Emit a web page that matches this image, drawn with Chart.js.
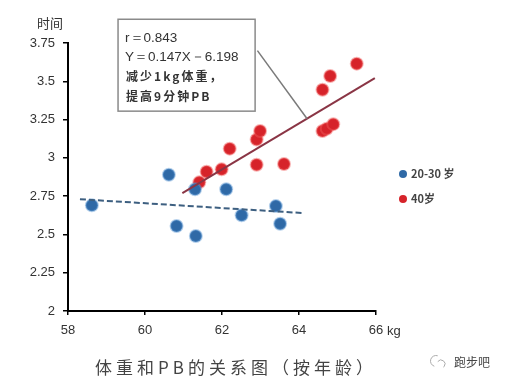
<!DOCTYPE html>
<html lang="zh">
<head>
  <meta charset="UTF-8" />
  <title>体重和PB的关系图</title>
  <script src="https://cdn.jsdelivr.net/npm/chart.js"></script>
  <style>
    html, body {
      margin: 0;
      padding: 0;
      background: #fff;
    }
    #wrap {
      width: 506px;
      height: 383px;
      position: relative;
    }
  </style>
</head>
<body>
  <div id="wrap">
    <canvas id="pbChart" width="506" height="383"></canvas>
  </div>

  <script>
    // 20-30岁
    const youngWeight = [58.62, 60.62, 60.82, 61.30, 61.32, 62.11, 62.51, 63.40, 63.51];
    const youngTime   = [2.69, 2.89, 2.555, 2.795, 2.49, 2.795, 2.625, 2.685, 2.57];
    // 40岁
    const oldWeight = [61.41, 61.60, 61.99, 62.20, 62.90, 62.90, 62.99, 63.61, 64.61, 64.72, 64.89, 64.61, 64.81, 65.50];
    const oldTime   = [2.84, 2.91, 2.925, 3.06, 2.955, 3.12, 3.175, 2.96, 3.175, 3.19, 3.22, 3.445, 3.535, 3.615];

    // 趋势线 (端点)
    const youngTrendX = [58.31, 64.07];
    const youngTrendY = [2.73, 2.64];
    const oldTrendX = [60.97, 65.97];
    const oldTrendY = [2.77, 3.52];

    const xTicks = [58, 60, 62, 64, 66];
    const yTicks = [2, 2.25, 2.5, 2.75, 3, 3.25, 3.5, 3.75];

    const noteLines = ['r＝0.843', 'Y＝0.147X－6.198', '减少1kg体重，', '提高9分钟PB'];
    const legendLabels = ['20-30 岁', '40岁'];
    const chartTitle = '体重和PB的关系图（按年龄）';

    // 注释框与指引线 (数据坐标)
    const noteBox = { x0: 59.3, y0: 3.905, x1: 62.86, y1: 3.305 };
    const pointerFrom = [62.92, 3.70];
    const pointerTo = [64.21, 3.255];

    const BLUE = '#2f69a6';
    const RED = '#d6232a';

    const toPoints = (xs, ys) => xs.map((x, i) => ({ x: x, y: ys[i] }));

    const extras = {
      id: 'extras',
      afterDraw(chart) {
        const { ctx, scales: { x, y }, chartArea } = chart;
        ctx.save();

        // y轴标题
        ctx.fillStyle = '#333';
        ctx.font = '13px "Noto Sans CJK SC"';
        ctx.textAlign = 'center';
        ctx.textBaseline = 'middle';
        ctx.fillText('时间', 50, 23);

        // kg
        ctx.font = '13px "Liberation Sans", Arial';
        ctx.textAlign = 'left';
        ctx.fillText('kg', 387, 331);

        // 指引线
        ctx.strokeStyle = '#7a7a7a';
        ctx.lineWidth = 1.5;
        ctx.beginPath();
        ctx.moveTo(x.getPixelForValue(pointerFrom[0]), y.getPixelForValue(pointerFrom[1]));
        ctx.lineTo(x.getPixelForValue(pointerTo[0]), y.getPixelForValue(pointerTo[1]));
        ctx.stroke();

        // 注释框
        const bx = x.getPixelForValue(noteBox.x0);
        const by = y.getPixelForValue(noteBox.y0);
        const bw = x.getPixelForValue(noteBox.x1) - bx;
        const bh = y.getPixelForValue(noteBox.y1) - by;
        ctx.fillStyle = '#fff';
        ctx.fillRect(bx, by, bw, bh);
        ctx.strokeStyle = '#8a8a8a';
        ctx.lineWidth = 1.5;
        ctx.strokeRect(bx, by, bw, bh);

        ctx.fillStyle = '#333';
        ctx.textAlign = 'left';
        ctx.font = '13.5px "Liberation Sans", Arial';
        ctx.fillText(noteLines[0], bx + 7, by + 19);
        ctx.fillText(noteLines[1], bx + 7, by + 38);
        ctx.font = 'bold 12px "Noto Sans CJK SC"';
        ctx.letterSpacing = '2px';
        ctx.fillText(noteLines[2], bx + 8, by + 57);
        ctx.fillText(noteLines[3], bx + 8, by + 77);
        ctx.letterSpacing = '0px';

        // 图例
        const lx = chartArea.right + 27;
        [[BLUE, 174], [RED, 199]].forEach(([c, ly], i) => {
          ctx.fillStyle = c;
          ctx.beginPath();
          ctx.arc(lx, ly, 4, 0, Math.PI * 2);
          ctx.fill();
          ctx.fillStyle = '#444';
          ctx.font = 'bold 11px "Noto Sans CJK SC"';
          ctx.fillText(legendLabels[i], lx + 8, ly);
        });

        // 标题
        ctx.fillStyle = '#444';
        ctx.font = '17px "Noto Sans CJK SC"';
        ctx.letterSpacing = '4px';
        ctx.textAlign = 'left';
        ctx.fillText(chartTitle, 95, 368);
        ctx.letterSpacing = '0px';

        // 水印
        ctx.strokeStyle = '#aaa';
        ctx.lineWidth = 1;
        ctx.beginPath();
        ctx.arc(436, 361, 5.5, Math.PI * 0.6, Math.PI * 1.6);
        ctx.stroke();
        ctx.beginPath();
        ctx.arc(441, 364, 4, Math.PI * 1.2, Math.PI * 2.3);
        ctx.stroke();
        ctx.fillStyle = '#444';
        ctx.font = '12px "Noto Sans CJK SC"';
        ctx.fillText('跑步吧', 454, 362);

        ctx.restore();
      }
    };

    new Chart(document.getElementById('pbChart'), {
      type: 'scatter',
      data: {
        datasets: [
          {
            label: legendLabels[0],
            data: toPoints(youngWeight, youngTime),
            backgroundColor: BLUE,
            borderColor: 'rgba(90,150,210,0.45)',
            borderWidth: 2,
            pointRadius: 6,
            order: 2
          },
          {
            label: legendLabels[1],
            data: toPoints(oldWeight, oldTime),
            backgroundColor: RED,
            borderColor: 'rgba(240,90,90,0.45)',
            borderWidth: 2,
            pointRadius: 6,
            order: 2
          },
          {
            type: 'line',
            data: toPoints(youngTrendX, youngTrendY),
            borderColor: '#3d5f80',
            borderWidth: 2,
            borderDash: [6, 3],
            pointRadius: 0,
            order: 1
          },
          {
            type: 'line',
            data: toPoints(oldTrendX, oldTrendY),
            borderColor: '#8a3545',
            borderWidth: 2,
            pointRadius: 0,
            order: 1
          }
        ]
      },
      options: {
        responsive: false,
        animation: false,
        layout: { padding: { top: 43, right: 130, left: 0, bottom: 0 } },
        scales: {
          x: {
            type: 'linear',
            min: 58,
            max: 66,
            afterBuildTicks: s => { s.ticks = xTicks.map(v => ({ value: v })); },
            afterFit: s => { s.height = 72; },
            grid: { drawOnChartArea: false, drawTicks: true, tickLength: 4, color: '#000', lineWidth: 1.5 },
            border: { color: '#000', width: 2 },
            ticks: { color: '#333', font: { size: 13, family: '"Liberation Sans", Arial' }, padding: 8 }
          },
          y: {
            min: 2,
            max: 3.75,
            afterBuildTicks: s => { s.ticks = yTicks.map(v => ({ value: v })); },
            afterFit: s => { s.width = 68; },
            grid: { drawOnChartArea: false, drawTicks: true, tickLength: 5, color: '#000', lineWidth: 1.5 },
            border: { color: '#000', width: 2 },
            ticks: { color: '#333', font: { size: 13, family: '"Liberation Sans", Arial' }, padding: 8, callback: v => String(v) }
          }
        },
        plugins: {
          legend: { display: false },
          tooltip: { enabled: false }
        }
      },
      plugins: [extras]
    });
  </script>
</body>
</html>
